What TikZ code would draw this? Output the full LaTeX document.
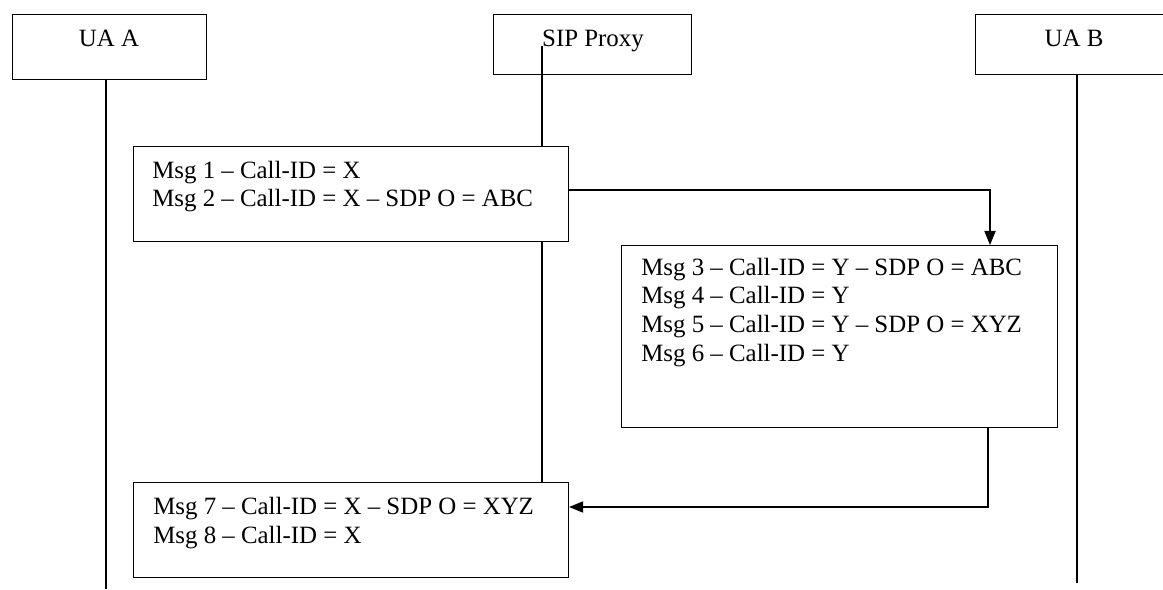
\documentclass[tikz,border=0pt]{standalone}
\usepackage{fontspec}
\setmainfont{Liberation Serif}
\usetikzlibrary{arrows.meta}
\def\px{0.025cm}
\tikzset{
	box/.style={draw, line width=0.8pt, anchor=north west, inner sep=0pt},
	head/.style={font=\fontsize{17.7}{20.3}\selectfont, anchor=base, inner sep=0pt},
	msg/.style={font=\fontsize{17.7}{20.3}\selectfont, anchor=base west, align=left, inner sep=0pt},
	life/.style={line width=0.8pt},
	flow/.style={line width=0.8pt, -{Triangle[length=10pt,width=8pt]}}
}

\begin{document}
\begin{tikzpicture}[x=\px, y=-\px]
			%%%%% START %%%%%
			\useasboundingbox (0,0) rectangle (1163,590);
			
			\node[box, minimum width=194*\px, minimum height=65*\px] (uaa) at (12,14) {};
			\node[head] (uaat) at (109,47) {UA A};
			
			\node[box, minimum width=198*\px, minimum height=60*\px] (proxy) at (493,14) {};
			\node[head] (proxyt) at (593,47) {SIP Proxy};
			
			\node[box, minimum width=198*\px, minimum height=60*\px] (uab) at (975,14) {};
			\node[head] (uabt) at (1074,47) {UA B};
			
			% text nodes sit on the baseline of their last line
			\node[box, minimum width=435*\px, minimum height=95*\px] (m1) at (133,146) {};
			\node[msg] (m1t) at (152,207) {Msg 1 – Call-ID = X\\Msg 2 – Call-ID = X – SDP O = ABC};
			
			\node[box, minimum width=436*\px, minimum height=182*\px] (m2) at (621,245) {};
			\node[msg] (m2t) at (641,361) {Msg 3 – Call-ID = Y – SDP O = ABC\\Msg 4 – Call-ID = Y\\Msg 5 – Call-ID = Y – SDP O = XYZ\\Msg 6 – Call-ID = Y};
			
			\node[box, minimum width=435*\px, minimum height=95*\px] (m3) at (133,482) {};
			\node[msg] (m3t) at (153,543) {Msg 7 – Call-ID = X – SDP O = XYZ\\Msg 8 – Call-ID = X};
			
			\coordinate (aend) at (106,589);
			\coordinate (ptop) at (542,46);
			\coordinate (bend) at (1077,583);
			\draw[life] (aend |- uaa.south) -- (aend);
			\draw[life] (ptop) -- (ptop |- m1.north);
			\draw[life] (ptop |- m1.south) -- (ptop |- m3.north);
			\draw[life] (bend |- uab.south) -- (bend);
			
			\coordinate (turn1) at (990,190);
			\draw[flow] (m1.east |- turn1) -- (turn1) -- (turn1 |- m2.north);
			\coordinate (turn2) at (988,507);
			\draw[flow] (turn2 |- m2.south) -- (turn2) -- (m3.east |- turn2);
			
			%%%%% END %%%%%
\end{tikzpicture}
\end{document}
